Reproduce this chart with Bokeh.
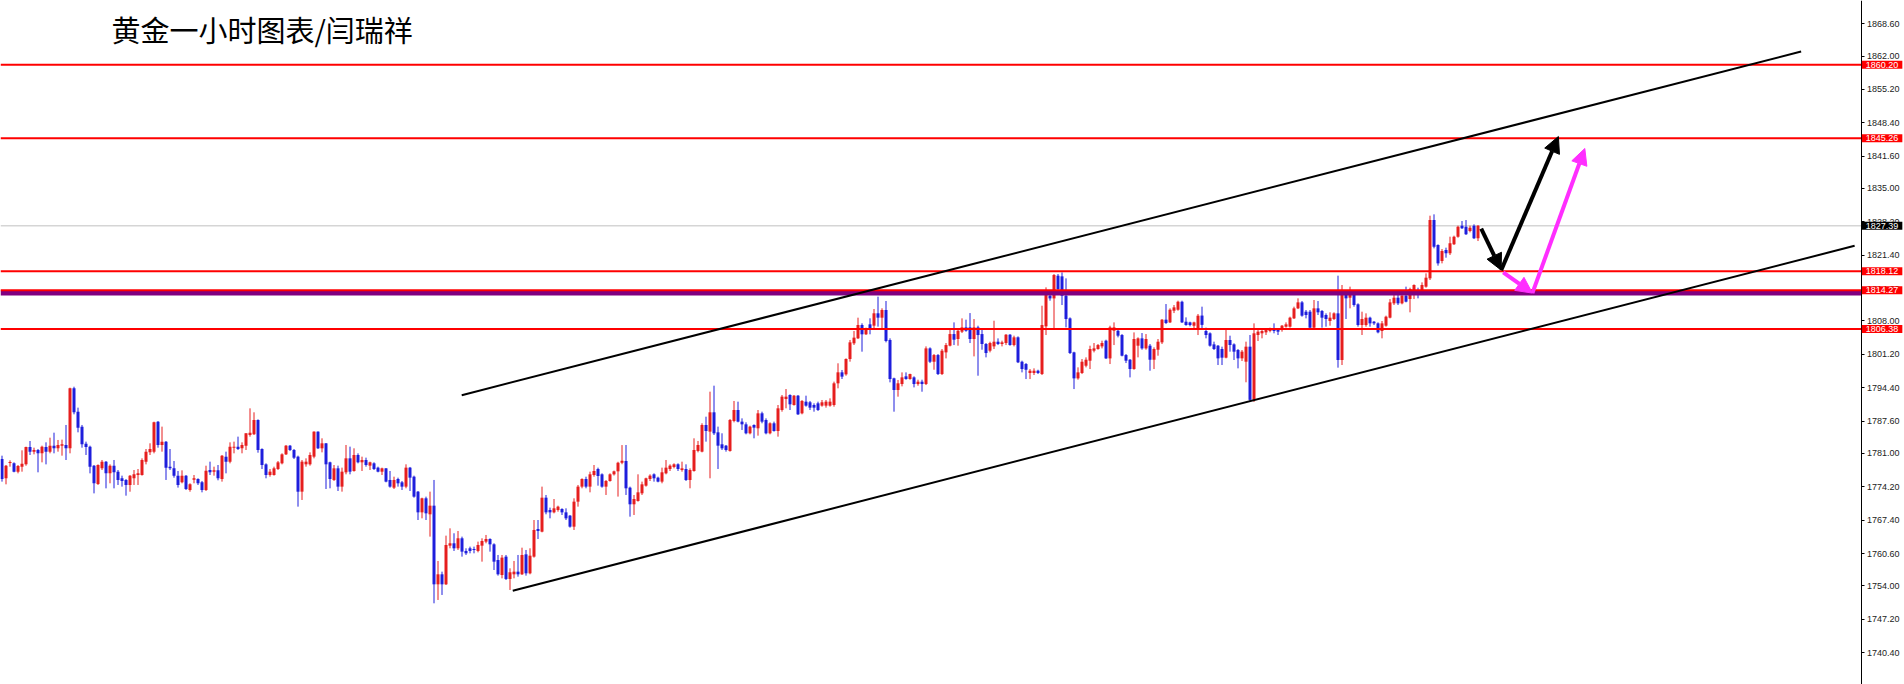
from bokeh.plotting import figure
from bokeh.models import (Range1d, FixedTicker, PrintfTickFormatter, Label,
                          Arrow, NormalHead, ColumnDataSource)
from bokeh.embed import file_html
from bokeh.resources import INLINE

# ---------------- data (gold, 1-hour bars) ----------------
bar_open = [
    1779.86, 1775.93, 1779.05, 1778.98, 1777.28, 1778.30, 1778.77, 1782.31, 1781.36, 1781.70,
    1781.02, 1782.31, 1781.36, 1782.58, 1782.04, 1782.58, 1782.72, 1782.04, 1794.26, 1789.51,
    1786.46, 1782.99, 1782.38, 1778.50, 1774.77, 1777.96, 1779.32, 1776.94, 1778.50, 1777.28,
    1775.93, 1775.59, 1774.57, 1775.93, 1776.60, 1776.60, 1779.32, 1781.22, 1781.36, 1787.47,
    1782.72, 1783.40, 1778.30, 1777.96, 1776.47, 1775.11, 1776.47, 1773.54, 1775.65, 1775.79,
    1775.11, 1773.54, 1777.62, 1777.28, 1777.55, 1775.79, 1780.34, 1779.32, 1782.17, 1782.38,
    1782.04, 1782.58, 1784.76, 1784.89, 1787.81, 1781.90, 1778.77, 1776.60, 1776.60, 1777.82,
    1778.98, 1780.81, 1782.58, 1781.70, 1780.34,
    1773.21, 1778.78, 1778.78, 1780.34, 1785.44, 1782.04, 1783.06, 1779.19, 1775.59, 1777.96,
    1774.23, 1777.15, 1780.00, 1777.42, 1780.68, 1779.19, 1779.66, 1778.51, 1778.98, 1778.10,
    1777.28, 1777.96, 1775.59, 1774.02, 1775.79, 1775.11, 1774.23, 1778.10, 1776.26, 1773.21,
    1768.99, 1771.85, 1768.59, 1770.35, 1754.32, 1756.36, 1754.32, 1762.20, 1762.68, 1761.66,
    1763.70, 1761.12, 1761.66, 1761.52, 1761.12, 1762.20, 1763.02, 1763.56, 1762.47, 1759.28,
    1756.22, 1759.96, 1755.41, 1756.36, 1756.90, 1756.36, 1760.43, 1756.56, 1759.96, 1765.60,
    1765.05, 1771.98, 1769.47, 1768.99, 1769.47, 1769.68, 1768.99, 1768.32, 1766.07, 1771.17,
    1774.23, 1775.79, 1774.23, 1776.60, 1777.83,
    1776.74, 1774.23, 1775.38, 1776.74, 1777.35, 1779.10, 1779.46, 1774.02, 1770.63, 1771.31,
    1772.87, 1774.43, 1775.79, 1776.74, 1776.06, 1775.25, 1776.94, 1777.83, 1778.24, 1778.78,
    1777.62, 1777.83, 1775.58, 1777.42, 1781.50, 1781.36, 1786.80, 1785.44, 1789.38, 1785.30,
    1782.86, 1782.58, 1781.50, 1787.61, 1789.85, 1787.48, 1786.93, 1785.10, 1786.80, 1786.12,
    1789.17, 1787.81, 1785.10, 1787.14, 1785.57, 1789.85, 1792.10, 1792.91, 1790.87, 1792.77,
    1789.17, 1791.55, 1791.42, 1790.87, 1791.21, 1790.74, 1790.74, 1790.74, 1790.87, 1795.29,
    1797.53, 1797.12, 1800.25, 1803.44, 1804.46, 1807.18, 1805.28, 1807.31, 1807.04, 1809.56,
    1808.67, 1810.24, 1804.12, 1796.31, 1793.93,
    1795.14, 1796.71, 1796.16, 1796.50, 1795.14, 1795.62, 1795.14, 1802.41, 1799.69, 1801.05,
    1797.18, 1801.60, 1802.96, 1805.33, 1804.32, 1805.81, 1806.69, 1806.69, 1804.32, 1806.69,
    1805.33, 1803.30, 1801.94, 1802.82, 1803.77, 1803.30, 1803.50, 1805.20, 1803.09, 1804.66,
    1799.69, 1799.22, 1797.39, 1797.39, 1797.86, 1797.18, 1806.90, 1813.15, 1812.60, 1817.22,
    1817.09, 1813.15, 1808.53, 1801.60, 1796.30, 1797.39, 1798.88, 1799.90, 1801.94, 1802.28,
    1802.82, 1803.98, 1800.37, 1806.01, 1806.01, 1805.13, 1801.05, 1800.10, 1798.20, 1802.96,
    1804.45, 1802.41, 1802.96, 1800.10, 1802.14, 1803.64, 1808.26, 1807.71, 1810.09, 1810.29,
    1811.92, 1807.85, 1807.71, 1807.03, 1806.35,
    1809.10, 1805.95, 1805.48, 1803.23, 1802.96, 1802.28, 1800.52, 1804.12, 1803.23, 1802.08,
    1800.38, 1799.70, 1802.76, 1791.92, 1805.14, 1805.48, 1805.68, 1805.95, 1806.49, 1806.15,
    1806.15, 1806.83, 1806.83, 1808.53, 1810.57, 1811.79, 1809.89, 1809.89, 1806.63, 1810.57,
    1810.03, 1809.21, 1807.99, 1808.40, 1809.55, 1800.04, 1813.42, 1812.74, 1813.29, 1811.39,
    1807.17, 1807.17, 1808.67, 1807.85, 1807.51, 1805.95, 1807.04, 1808.67, 1811.59, 1812.74,
    1811.59, 1813.15, 1812.47, 1813.29, 1814.31, 1813.42, 1814.99, 1816.69, 1828.57, 1823.48,
    1820.22, 1822.46, 1821.78, 1823.62, 1825.18, 1827.42, 1827.22, 1826.33, 1827.42, 1824.84,
]
bar_high = [
    1780.54, 1778.64, 1779.59, 1779.18, 1778.64, 1781.63, 1782.38, 1783.53, 1782.17, 1781.90,
    1782.58, 1783.26, 1784.21, 1785.23, 1783.74, 1783.81, 1786.80, 1794.40, 1794.60, 1790.33,
    1786.80, 1783.40, 1782.58, 1778.64, 1778.77, 1779.66, 1779.45, 1778.77, 1779.66, 1777.62,
    1776.47, 1775.79, 1776.60, 1777.62, 1777.82, 1780.00, 1781.90, 1783.06, 1787.47, 1787.61,
    1786.46, 1783.53, 1781.90, 1779.45, 1777.42, 1777.55, 1776.60, 1774.91, 1776.60, 1775.93,
    1775.38, 1778.50, 1779.32, 1778.30, 1778.64, 1780.68, 1781.36, 1783.26, 1783.40, 1784.42,
    1783.26, 1785.10, 1790.19, 1789.38, 1787.95, 1782.04, 1778.98, 1777.82, 1778.30, 1779.45,
    1781.02, 1782.72, 1782.72, 1781.90, 1780.54,
    1779.66, 1780.00, 1781.22, 1785.50, 1785.50, 1784.08, 1783.10, 1779.32, 1778.64, 1778.51,
    1778.10, 1782.72, 1782.38, 1782.04, 1781.02, 1780.34, 1780.14, 1779.32, 1779.19, 1778.30,
    1778.10, 1778.00, 1777.42, 1776.26, 1776.06, 1775.38, 1778.78, 1778.24, 1776.47, 1773.34,
    1771.98, 1772.19, 1773.21, 1775.59, 1759.08, 1756.90, 1764.24, 1765.73, 1764.72, 1765.19,
    1764.04, 1761.66, 1762.00, 1762.00, 1763.02, 1763.70, 1764.38, 1763.70, 1762.68, 1760.30,
    1760.30, 1760.30, 1757.58, 1759.08, 1760.30, 1761.79, 1761.32, 1761.66, 1767.43, 1767.43,
    1774.23, 1772.53, 1769.95, 1771.71, 1770.35, 1769.81, 1769.81, 1768.45, 1771.85, 1774.57,
    1775.93, 1776.26, 1777.28, 1778.64, 1778.10,
    1776.94, 1775.58, 1776.94, 1777.50, 1779.30, 1782.70, 1782.72, 1774.23, 1772.53, 1776.74,
    1775.25, 1776.06, 1776.74, 1776.94, 1776.26, 1778.10, 1779.66, 1778.78, 1778.98, 1778.98,
    1779.32, 1778.78, 1777.96, 1784.08, 1783.54, 1787.14, 1788.49, 1793.59, 1794.81, 1786.46,
    1785.10, 1782.72, 1788.02, 1791.69, 1791.55, 1788.15, 1787.34, 1786.66, 1786.93, 1789.85,
    1789.51, 1788.15, 1787.34, 1787.48, 1790.87, 1792.91, 1794.13, 1793.05, 1792.91, 1792.91,
    1791.89, 1792.77, 1791.69, 1791.21, 1791.55, 1791.89, 1791.89, 1792.23, 1795.63, 1799.37,
    1798.01, 1800.38, 1804.12, 1805.96, 1808.67, 1807.52, 1806.63, 1808.54, 1810.44, 1812.95,
    1810.58, 1812.07, 1804.46, 1796.44, 1795.97,
    1797.52, 1797.52, 1797.25, 1796.71, 1796.03, 1796.03, 1802.82, 1802.62, 1801.26, 1801.26,
    1802.28, 1803.50, 1806.49, 1807.71, 1806.22, 1808.53, 1808.26, 1809.61, 1808.39, 1807.03,
    1806.35, 1803.50, 1803.77, 1808.05, 1804.45, 1803.98, 1805.33, 1805.33, 1805.00, 1804.86,
    1799.90, 1799.42, 1798.20, 1798.34, 1798.06, 1811.11, 1814.85, 1813.83, 1817.56, 1817.56,
    1817.90, 1816.68, 1808.73, 1801.73, 1798.54, 1800.24, 1800.58, 1802.96, 1803.50, 1803.30,
    1803.98, 1804.18, 1807.03, 1807.71, 1806.22, 1805.33, 1801.26, 1800.24, 1805.67, 1804.66,
    1805.54, 1805.33, 1803.30, 1802.62, 1804.32, 1808.39, 1811.45, 1810.57, 1811.25, 1812.13,
    1812.13, 1808.73, 1807.85, 1807.85, 1809.41,
    1810.91, 1806.63, 1805.68, 1803.78, 1803.10, 1802.76, 1806.36, 1805.00, 1803.44, 1802.28,
    1802.08, 1803.78, 1805.14, 1807.51, 1806.15, 1806.15, 1806.36, 1806.63, 1807.51, 1806.36,
    1807.17, 1807.71, 1808.87, 1810.91, 1812.61, 1812.06, 1810.23, 1810.23, 1812.27, 1812.06,
    1810.23, 1809.55, 1809.76, 1809.76, 1817.23, 1815.33, 1813.97, 1814.99, 1813.42, 1811.59,
    1809.89, 1809.55, 1808.87, 1807.99, 1807.71, 1807.99, 1809.08, 1812.47, 1813.29, 1813.29,
    1813.97, 1814.99, 1814.78, 1815.46, 1814.78, 1815.87, 1817.70, 1829.46, 1829.73, 1823.62,
    1822.66, 1822.94, 1825.18, 1825.38, 1827.42, 1828.37, 1828.57, 1827.42, 1827.69, 1827.56,
]
bar_low = [
    1775.25, 1774.70, 1778.30, 1777.15, 1776.94, 1777.28, 1778.50, 1780.68, 1780.81, 1777.15,
    1779.18, 1778.77, 1781.02, 1781.02, 1781.36, 1780.54, 1779.66, 1781.02, 1788.97, 1785.30,
    1782.17, 1780.68, 1776.94, 1772.86, 1774.57, 1777.62, 1773.88, 1774.91, 1773.88, 1774.57,
    1774.23, 1772.39, 1773.20, 1774.57, 1774.57, 1776.47, 1778.77, 1780.68, 1781.02, 1782.17,
    1781.36, 1775.59, 1777.62, 1776.06, 1774.03, 1774.91, 1773.54, 1773.20, 1774.91, 1774.57,
    1773.07, 1773.34, 1776.60, 1776.47, 1775.52, 1775.25, 1776.94, 1778.98, 1781.02, 1781.70,
    1781.02, 1781.70, 1784.42, 1784.76, 1781.15, 1777.82, 1775.93, 1776.26, 1776.47, 1777.62,
    1778.77, 1780.68, 1781.49, 1779.86, 1770.15,
    1771.51, 1778.30, 1778.51, 1780.00, 1781.90, 1781.22, 1773.75, 1773.89, 1775.38, 1773.34,
    1773.21, 1776.74, 1776.74, 1777.28, 1778.98, 1777.42, 1778.30, 1777.62, 1777.62, 1777.15,
    1776.60, 1775.11, 1774.02, 1773.75, 1774.23, 1773.55, 1773.89, 1773.34, 1771.98, 1767.43,
    1767.77, 1767.43, 1764.04, 1750.45, 1751.13, 1752.15, 1754.18, 1761.66, 1761.12, 1761.32,
    1759.96, 1760.30, 1760.64, 1760.64, 1760.84, 1758.94, 1762.68, 1760.98, 1757.24, 1756.09,
    1755.54, 1755.20, 1753.17, 1755.54, 1755.88, 1756.22, 1756.09, 1756.36, 1759.76, 1763.56,
    1764.92, 1768.59, 1767.77, 1768.79, 1769.13, 1768.45, 1767.43, 1765.87, 1765.40, 1770.15,
    1773.89, 1773.89, 1773.07, 1776.26, 1774.43,
    1774.02, 1772.53, 1775.24, 1776.50, 1772.20, 1778.80, 1772.53, 1768.11, 1768.45, 1771.17,
    1772.53, 1774.23, 1775.38, 1775.25, 1775.11, 1774.91, 1776.74, 1777.42, 1777.96, 1777.42,
    1777.28, 1775.38, 1773.89, 1777.28, 1781.22, 1781.22, 1783.40, 1775.93, 1784.76, 1777.83,
    1781.70, 1781.36, 1781.36, 1787.34, 1787.34, 1785.78, 1784.89, 1784.89, 1784.08, 1784.62,
    1787.14, 1784.89, 1784.89, 1785.44, 1784.42, 1789.51, 1790.19, 1789.85, 1790.74, 1788.83,
    1788.97, 1790.53, 1789.85, 1789.51, 1789.65, 1790.53, 1790.33, 1790.53, 1790.53, 1794.27,
    1796.17, 1796.85, 1799.70, 1803.10, 1804.33, 1801.74, 1805.14, 1805.28, 1806.36, 1806.84,
    1806.50, 1803.64, 1795.49, 1789.51, 1792.57,
    1794.67, 1796.03, 1796.03, 1794.46, 1794.80, 1793.58, 1794.94, 1799.42, 1798.06, 1796.98,
    1796.98, 1800.37, 1802.82, 1803.09, 1802.96, 1805.54, 1805.81, 1803.50, 1800.78, 1796.84,
    1802.14, 1800.58, 1801.60, 1802.28, 1803.09, 1802.82, 1803.09, 1802.96, 1802.82, 1799.42,
    1797.52, 1796.16, 1796.16, 1796.98, 1797.18, 1796.98, 1805.13, 1812.13, 1806.49, 1814.17,
    1811.25, 1806.69, 1801.26, 1794.12, 1796.03, 1797.18, 1798.54, 1798.20, 1801.60, 1802.14,
    1802.41, 1800.24, 1799.22, 1803.09, 1804.66, 1800.78, 1799.42, 1796.50, 1798.06, 1800.58,
    1802.14, 1802.14, 1797.86, 1798.20, 1800.92, 1803.30, 1807.37, 1807.58, 1809.61, 1810.09,
    1807.58, 1807.03, 1806.90, 1806.35, 1805.13,
    1806.50, 1804.46, 1802.76, 1802.08, 1799.02, 1799.02, 1800.38, 1801.74, 1800.04, 1798.34,
    1799.84, 1795.50, 1791.60, 1791.50, 1803.91, 1804.46, 1805.14, 1805.68, 1805.48, 1805.14,
    1805.82, 1806.63, 1806.63, 1808.40, 1810.43, 1808.87, 1808.53, 1806.49, 1806.49, 1809.21,
    1806.63, 1806.83, 1807.04, 1808.19, 1798.48, 1799.02, 1808.40, 1810.57, 1810.91, 1806.83,
    1805.14, 1806.83, 1806.83, 1807.17, 1805.48, 1804.46, 1806.83, 1808.53, 1811.25, 1811.25,
    1811.39, 1811.79, 1809.76, 1812.47, 1812.61, 1813.29, 1814.78, 1816.35, 1822.80, 1819.27,
    1819.74, 1820.90, 1821.44, 1823.48, 1824.97, 1826.74, 1825.52, 1826.06, 1824.70, 1824.29,
]
bar_close = [
    1775.79, 1778.50, 1779.25, 1777.28, 1778.43, 1778.91, 1782.31, 1781.36, 1781.70, 1781.02,
    1782.38, 1781.36, 1782.58, 1782.04, 1782.72, 1782.85, 1782.04, 1794.26, 1789.38, 1786.25,
    1782.85, 1782.31, 1778.30, 1774.91, 1778.64, 1779.32, 1776.94, 1778.50, 1777.15, 1775.59,
    1775.38, 1774.57, 1776.47, 1776.74, 1776.94, 1779.66, 1781.36, 1781.90, 1787.34, 1782.72,
    1783.40, 1778.10, 1777.96, 1776.47, 1774.57, 1776.47, 1773.75, 1774.70, 1775.93, 1774.91,
    1773.54, 1777.49, 1777.15, 1777.55, 1775.93, 1780.54, 1779.32, 1782.38, 1782.38, 1781.90,
    1782.72, 1785.10, 1785.23, 1787.81, 1781.70, 1778.64, 1776.60, 1777.28, 1777.96, 1779.18,
    1780.81, 1782.58, 1781.70, 1780.13, 1773.20,
    1779.32, 1779.32, 1780.68, 1785.44, 1782.04, 1783.06, 1778.78, 1775.79, 1777.96, 1774.23,
    1777.28, 1780.00, 1777.28, 1780.68, 1779.19, 1779.66, 1778.64, 1779.19, 1777.83, 1777.28,
    1777.96, 1775.25, 1774.23, 1775.59, 1774.91, 1774.23, 1778.10, 1776.06, 1772.19, 1768.99,
    1771.85, 1768.79, 1770.35, 1754.32, 1756.36, 1754.32, 1762.34, 1762.68, 1761.66, 1763.70,
    1760.98, 1760.64, 1761.12, 1761.32, 1762.34, 1763.15, 1763.56, 1762.47, 1758.94, 1756.36,
    1759.76, 1755.41, 1756.77, 1756.90, 1756.36, 1760.30, 1756.56, 1760.16, 1765.40, 1765.19,
    1771.98, 1768.99, 1768.99, 1769.81, 1770.15, 1768.99, 1767.77, 1766.07, 1771.17, 1774.23,
    1775.79, 1774.23, 1776.74, 1777.42, 1776.40,
    1774.23, 1775.38, 1776.74, 1777.35, 1779.10, 1779.50, 1773.89, 1770.63, 1771.71, 1773.07,
    1774.70, 1775.93, 1776.47, 1775.93, 1775.25, 1777.15, 1778.10, 1778.51, 1778.78, 1777.83,
    1777.96, 1775.58, 1777.62, 1781.70, 1782.72, 1786.80, 1785.57, 1789.38, 1785.10, 1782.58,
    1782.04, 1781.70, 1787.81, 1789.85, 1787.48, 1786.93, 1785.10, 1786.46, 1786.25, 1789.17,
    1787.48, 1785.10, 1787.14, 1785.57, 1790.19, 1792.57, 1792.57, 1791.01, 1792.77, 1788.97,
    1791.69, 1790.74, 1790.33, 1790.33, 1789.85, 1791.42, 1791.55, 1791.55, 1795.29, 1797.53,
    1796.65, 1800.25, 1803.64, 1804.60, 1807.18, 1805.28, 1806.50, 1806.50, 1809.56, 1808.67,
    1810.24, 1803.92, 1796.17, 1793.93, 1795.29,
    1796.50, 1796.16, 1797.18, 1795.14, 1795.62, 1795.14, 1802.41, 1799.69, 1801.05, 1797.18,
    1801.94, 1803.09, 1805.33, 1804.18, 1806.01, 1806.69, 1806.01, 1804.32, 1806.69, 1805.13,
    1803.30, 1801.46, 1803.50, 1803.77, 1803.30, 1803.64, 1805.20, 1803.09, 1804.66, 1799.56,
    1798.20, 1798.06, 1797.86, 1797.86, 1797.39, 1807.17, 1813.28, 1812.60, 1817.36, 1814.51,
    1813.15, 1808.39, 1801.46, 1796.30, 1797.52, 1799.69, 1800.10, 1802.28, 1802.41, 1803.09,
    1803.50, 1800.37, 1806.69, 1806.69, 1805.00, 1800.92, 1799.90, 1798.20, 1804.32, 1804.45,
    1802.41, 1804.32, 1800.10, 1802.28, 1803.77, 1808.26, 1807.58, 1810.29, 1810.77, 1811.92,
    1807.71, 1807.17, 1807.17, 1807.71, 1809.07,
    1807.20, 1805.14, 1802.96, 1802.28, 1800.38, 1800.52, 1804.12, 1803.10, 1801.74, 1800.38,
    1801.74, 1802.76, 1791.92, 1805.48, 1805.82, 1805.95, 1806.15, 1806.49, 1805.95, 1805.82,
    1807.04, 1807.31, 1808.67, 1810.57, 1811.79, 1809.08, 1809.21, 1806.63, 1810.57, 1809.76,
    1808.67, 1808.40, 1808.67, 1809.55, 1800.04, 1813.29, 1812.61, 1813.97, 1811.25, 1807.17,
    1808.40, 1808.67, 1807.51, 1807.51, 1805.68, 1807.51, 1808.87, 1811.79, 1812.74, 1811.59,
    1813.15, 1811.93, 1814.51, 1815.33, 1813.83, 1815.33, 1816.82, 1828.57, 1823.14, 1819.74,
    1822.26, 1821.78, 1823.82, 1825.18, 1827.22, 1826.88, 1825.65, 1827.01, 1824.84, 1827.39,
]

level_prices = [1860.20, 1845.26, 1818.12, 1806.38]
zone_price = 1814.27
zone_band_price = 1813.70
last_price = 1827.39
price_ticks = [1740.40, 1747.20, 1754.00, 1760.60, 1767.40, 1774.20, 1781.00, 1787.60,
               1794.40, 1801.20, 1808.00, 1814.60, 1821.40, 1828.20, 1835.00, 1841.60,
               1848.40, 1855.20, 1862.00, 1868.60]
title_text = "黄金一小时图表/闫瑞祥"

# trend channel (bar index, price)
upper_channel_x = [114.93, 449.78]
upper_channel_y = [1792.87, 1862.92]
lower_channel_x = [127.68, 463.15]
lower_channel_y = [1753.02, 1823.32]

# projected paths (bar index, price)
black_path_x = [369.8, 374.8, 389.1]
black_path_y = [1826.84, 1818.36, 1845.60]
magenta_path_x = [375.3, 382.6, 395.7]
magenta_path_y = [1817.90, 1813.68, 1843.15]

# ---------------- figure ----------------
UP = "#E61E1E"
DOWN = "#1E1EDC"
X_LEFT = -0.375          # left edge of the chart area (bar units)
AXIS_X = 464.75          # where the price scale sits (bar units)

n = len(bar_open)
idx = list(range(n))
is_up = [c >= o for o, c in zip(bar_open, bar_close)]
src = ColumnDataSource(dict(
    x=idx,
    high=bar_high,
    low=bar_low,
    top=[max(o, c) for o, c in zip(bar_open, bar_close)],
    bottom=[min(o, c) for o, c in zip(bar_open, bar_close)],
    color=[UP if u else DOWN for u in is_up],
))

p = figure(frame_width=1904, frame_height=684,
           x_range=Range1d(X_LEFT, X_LEFT + 476), y_range=Range1d(1733.90, 1873.32),
           output_backend="svg", toolbar_location=None,
           x_axis_location=None, y_axis_location="right", title_location=None,
           min_border_left=0, min_border_top=0, min_border_bottom=0, min_border_right=0,
           background_fill_color="white", border_fill_color="white")
p.outline_line_color = None
p.xgrid.visible = False
p.ygrid.visible = False

ax = p.yaxis[0]
ax.fixed_location = AXIS_X
ax.ticker = FixedTicker(ticks=price_ticks)
ax.formatter = PrintfTickFormatter(format="%.2f")
ax.major_label_text_font = "Liberation Sans"
ax.major_label_text_font_size = "9px"
ax.major_label_text_color = "#222222"
ax.major_tick_out = 3
ax.major_tick_in = 0
ax.minor_tick_out = 0
ax.minor_tick_in = 0
ax.major_label_standoff = 3
ax.axis_line_color = "black"
ax.major_tick_line_color = "black"

# current price line
p.segment(x0=[X_LEFT], y0=[last_price], x1=[AXIS_X], y1=[last_price],
          line_color="#C0C0C0", line_width=1)

# candles
p.segment(x0="x", y0="low", x1="x", y1="high", source=src, line_color="color", line_width=1)
p.vbar(x="x", width=0.75, top="top", bottom="bottom", source=src,
       fill_color="color", line_color=None)

# horizontal levels
p.segment(x0=[X_LEFT], y0=[zone_band_price], x1=[AXIS_X], y1=[zone_band_price],
          line_color="#800080", line_width=5)
p.segment(x0=[X_LEFT] * 5, y0=level_prices + [zone_price],
          x1=[AXIS_X] * 5, y1=level_prices + [zone_price],
          line_color="#FF0000", line_width=2)

# channel
p.line(upper_channel_x, upper_channel_y, line_color="black", line_width=2)
p.line(lower_channel_x, lower_channel_y, line_color="black", line_width=2)

# projected arrows
for xs, ys, col in ((black_path_x, black_path_y, "black"),
                    (magenta_path_x, magenta_path_y, "#FF2EFF")):
    for k in range(2):
        p.add_layout(Arrow(x_start=xs[k], y_start=ys[k], x_end=xs[k + 1], y_end=ys[k + 1],
                           line_color=col, line_width=4,
                           end=NormalHead(size=16, fill_color=col, line_color=col)))

# title
p.add_layout(Label(x=27.375, y=1867.41, text=title_text, text_font="Noto Sans CJK SC",
                   text_font_size="29px", text_color="black", text_baseline="middle",
                   text_align="left"))

# price tags on the scale
tag_x = AXIS_X + 0.2
for lv in level_prices + [zone_price]:
    p.add_layout(Label(x=tag_x, y=lv, text="%.2f" % lv, text_font="Liberation Sans",
                       text_font_size="9px", text_color="white", text_baseline="middle",
                       text_align="left", background_fill_color="#FF0000", padding=(4, 1)))
p.add_layout(Label(x=tag_x, y=last_price, text="%.2f" % last_price, text_font="Liberation Sans",
                   text_font_size="9px", text_color="white", text_baseline="middle",
                   text_align="left", background_fill_color="black", padding=(4, 1)))

open("out.html", "w").write(file_html(p, INLINE))
